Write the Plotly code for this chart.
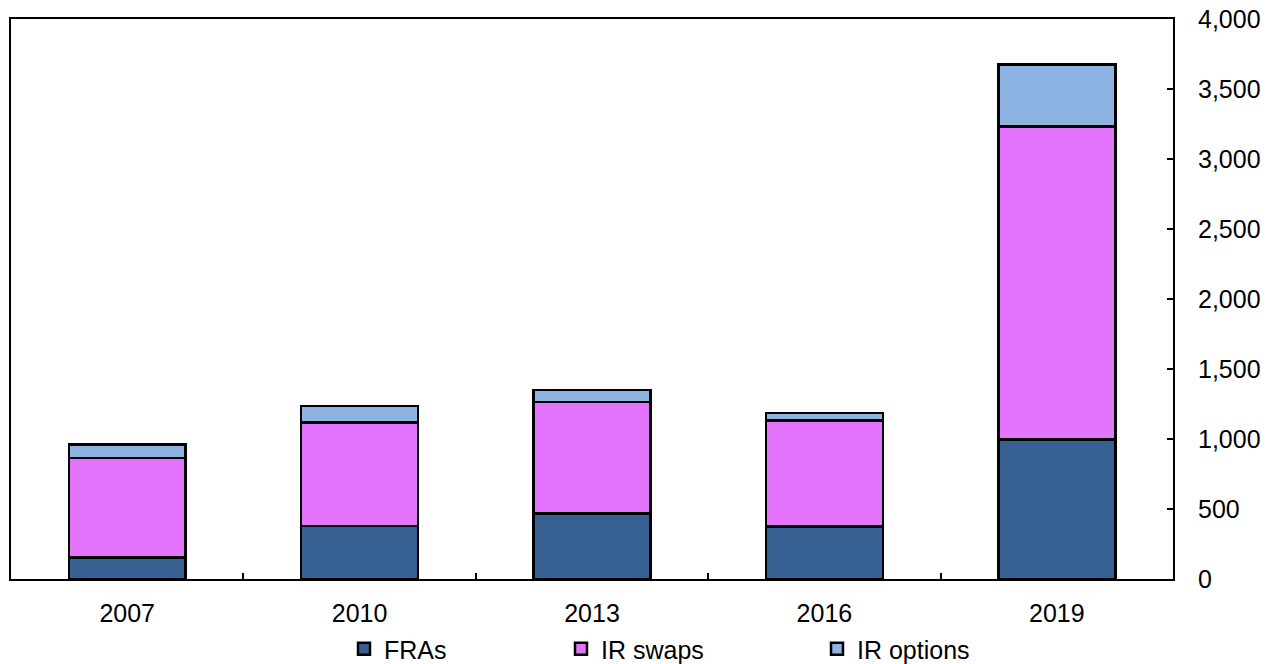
import plotly.graph_objects as go

# Average daily turnover by instrument
years = ["2007", "2010", "2013", "2016", "2019"]
fras = [155, 378, 469, 374, 998]
ir_swaps = [710, 739, 795, 757, 2233]
ir_options = [95, 119, 86, 53, 445]

y_ticks = [0, 500, 1000, 1500, 2000, 2500, 3000, 3500, 4000]

series = [
    ("FRAs", fras, "#366092", "legend"),
    ("IR swaps", ir_swaps, "#E474FB", "legend2"),
    ("IR options", ir_options, "#8DB4E2", "legend3"),
]

FONT = "Liberation Sans, Arial, sans-serif"

fig = go.Figure()
for name, vals, color, leg in series:
    fig.add_trace(go.Bar(
        x=years, y=vals, name=name, showlegend=True,
        marker=dict(color=color, line=dict(color="black", width=2.5)),
        legend=leg,
    ))

legend_common = dict(
    orientation="h", yanchor="middle", y=-0.125, xanchor="left",
    bgcolor="rgba(0,0,0,0)", font=dict(family=FONT, size=25, color="black"),
    itemclick=False, itemdoubleclick=False,
)

fig.update_layout(
    width=1280, height=664,
    margin=dict(l=11, r=107, t=19, b=85, autoexpand=False),
    showlegend=True,
    barmode="stack", bargap=0.497,
    paper_bgcolor="white", plot_bgcolor="white",
    font=dict(family=FONT, size=25, color="black"),
    legend=dict(x=(344 - 11) / 1162, **legend_common),
    legend2=dict(x=(561 - 11) / 1162, **legend_common),
    legend3=dict(x=(817 - 11) / 1162, **legend_common),
    xaxis=dict(
        type="category", showline=True, linecolor="black", linewidth=2,
        mirror=True, ticks="inside", ticklen=6, tickwidth=2, tickcolor="black",
        tickson="boundaries", showgrid=False, ticklabelstandoff=11,
        tickfont=dict(family=FONT, size=25, color="black"),
    ),
    yaxis=dict(
        side="right", range=[0, 4000], tickvals=y_ticks, tickformat=",",
        showline=True, linecolor="black", linewidth=2, mirror=True,
        ticks="inside", ticklen=6, tickwidth=2, tickcolor="black",
        showgrid=False, zeroline=False, ticklabelstandoff=18,
        tickfont=dict(family=FONT, size=25, color="black"),
    ),
)

fig.write_html("out.html")
